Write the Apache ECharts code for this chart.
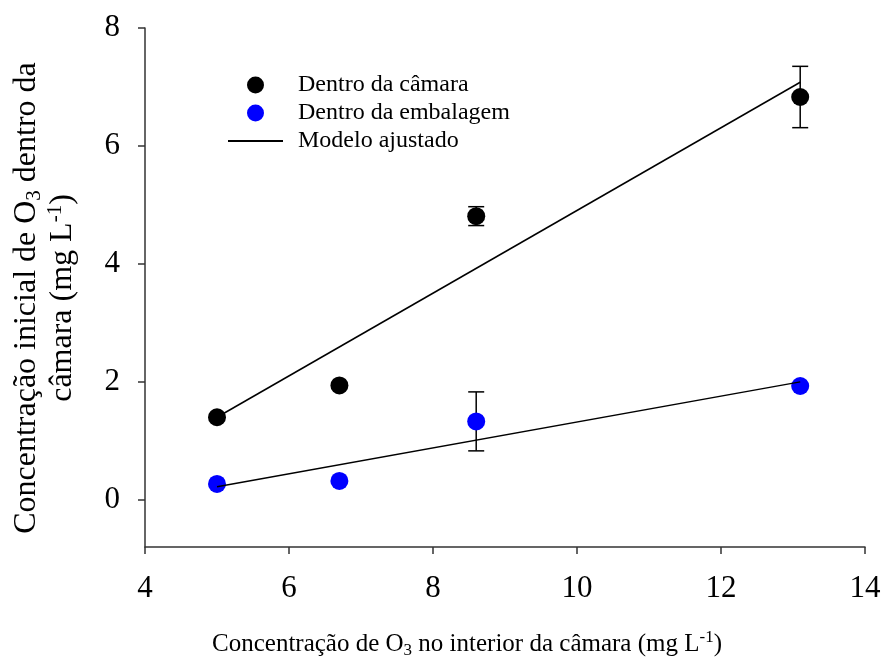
<!DOCTYPE html>
<html>
<head>
<meta charset="utf-8">
<script src="https://cdn.jsdelivr.net/npm/echarts@6/dist/echarts.min.js"></script>
<style>
  html, body { margin: 0; padding: 0; background: #fff; }
  #chart { width: 884px; height: 661px; }
</style>
</head>
<body>
<div id="chart"></div>
<script>
// O3 concentration in the chamber (x) and measured concentrations
const xVals = [5.0, 6.7, 8.6, 13.1];
const camara = [1.40, 1.94, 4.81, 6.83];
const camaraErr = [0, 0, 0.16, 0.52];
const embalagem = [0.27, 0.32, 1.33, 1.93];
const embalagemErr = [0, 0, 0.50, 0];

// Fitted linear models, evaluated at the ends of the measured range
const fitX = [5.0, 13.1];
const camaraFit = [1.40, 7.08];
const embalagemFit = [0.22, 2.00];

// Axis ticks
const xTicks = [4, 6, 8, 10, 12, 14];
const yTicks = [0, 2, 4, 6, 8];

const FONT = "'Liberation Serif', 'Times New Roman', serif";

const pairs = (xs, ys) => xs.map((x, i) => [x, ys[i]]);
const triples = (xs, ys, es) => xs.map((x, i) => [x, ys[i], es[i]]);

function errorBars(params, api) {
  const x = api.value(0), y = api.value(1), e = api.value(2);
  if (!e) return null;
  const top = api.coord([x, y + e]);
  const bot = api.coord([x, y - e]);
  const hw = 8;
  const style = { stroke: '#000', lineWidth: 1.5 };
  return {
    type: 'group',
    children: [
      { type: 'line', shape: { x1: top[0], y1: top[1], x2: bot[0], y2: bot[1] }, style },
      { type: 'line', shape: { x1: top[0] - hw, y1: top[1], x2: top[0] + hw, y2: top[1] }, style },
      { type: 'line', shape: { x1: bot[0] - hw, y1: bot[1], x2: bot[0] + hw, y2: bot[1] }, style }
    ]
  };
}

const chart = echarts.init(document.getElementById('chart'), null, { renderer: 'canvas' });

const axisLineStyle = { color: '#333', width: 1.5 };
const axisTick = { show: true, inside: false, length: 7, lineStyle: { color: '#333', width: 1.5 } };

chart.setOption({
  animation: false,
  backgroundColor: '#fff',
  grid: { left: 145, right: 19, top: 28, bottom: 114, containLabel: false },
  xAxis: {
    type: 'value',
    min: xTicks[0],
    max: xTicks[xTicks.length - 1],
    interval: 2,
    axisLine: { show: true, onZero: false, lineStyle: axisLineStyle },
    axisTick: axisTick,
    splitLine: { show: false },
    axisLabel: { fontFamily: FONT, fontSize: 31, color: '#000', margin: 26 }
  },
  yAxis: {
    type: 'value',
    min: -0.8,
    max: 8,
    axisLine: { show: true, onZero: false, lineStyle: axisLineStyle },
    axisTick: { ...axisTick, customValues: yTicks },
    splitLine: { show: false },
    axisLabel: { fontFamily: FONT, fontSize: 31, color: '#000', margin: 25, customValues: yTicks }
  },
  legend: {
    orient: 'vertical',
    left: 227,
    top: 73,
    padding: 0,
    itemWidth: 55,
    itemHeight: 17,
    itemGap: 4,
    data: [
      'Dentro da câmara',
      'Dentro da embalagem',
      { name: 'Modelo ajustado', itemStyle: { opacity: 0 } }
    ],
    textStyle: { fontFamily: FONT, fontSize: 24, color: '#000', lineHeight: 24, padding: [0, 0, 0, 10] }
  },
  graphic: [
    {
      type: 'text',
      x: 45, y: 298,
      rotation: Math.PI / 2,
      style: {
        text: '{a|Concentração inicial de O}{s|3}{a| dentro da}\n{a|câmara (mg L}{p|-1}{a|)}',
        align: 'center',
        verticalAlign: 'middle',
        fill: '#000',
        rich: {
          a: { fontFamily: FONT, fontSize: 32, lineHeight: 36, fill: '#000' },
          s: { fontFamily: FONT, fontSize: 21, lineHeight: 21, verticalAlign: 'bottom', fill: '#000' },
          p: { fontFamily: FONT, fontSize: 21, lineHeight: 21, verticalAlign: 'top', fill: '#000' }
        }
      }
    },
    {
      type: 'text',
      x: 467, y: 644,
      style: {
        text: '{a|Concentração de O}{s|3}{a| no interior da câmara (mg L}{p|-1}{a|)}',
        align: 'center',
        verticalAlign: 'middle',
        fill: '#000',
        rich: {
          a: { fontFamily: FONT, fontSize: 25, lineHeight: 30, fill: '#000' },
          s: { fontFamily: FONT, fontSize: 17, lineHeight: 17, verticalAlign: 'bottom', fill: '#000' },
          p: { fontFamily: FONT, fontSize: 17, lineHeight: 17, verticalAlign: 'top', fill: '#000' }
        }
      }
    }
  ],
  series: [
    {
      name: 'erro-camara',
      type: 'custom',
      renderItem: errorBars,
      data: triples(xVals, camara, camaraErr),
      z: 1,
      silent: true
    },
    {
      name: 'erro-embalagem',
      type: 'custom',
      renderItem: errorBars,
      data: triples(xVals, embalagem, embalagemErr),
      z: 1,
      silent: true
    },
    {
      name: 'Dentro da câmara',
      type: 'scatter',
      symbol: 'circle',
      symbolSize: 18,
      itemStyle: { color: '#000', opacity: 1 },
      data: pairs(xVals, camara),
      z: 2
    },
    {
      name: 'Dentro da embalagem',
      type: 'scatter',
      symbol: 'circle',
      symbolSize: 18,
      itemStyle: { color: '#0000ff', opacity: 1 },
      data: pairs(xVals, embalagem),
      z: 2
    },
    {
      name: 'Modelo ajustado',
      type: 'line',
      symbol: 'none',
      itemStyle: { color: '#000' },
      lineStyle: { color: '#000', width: 1.5 },
      data: pairs(fitX, camaraFit),
      z: 3
    },
    {
      name: 'Modelo ajustado',
      type: 'line',
      symbol: 'none',
      itemStyle: { color: '#000' },
      lineStyle: { color: '#000', width: 1.5 },
      data: pairs(fitX, embalagemFit),
      z: 3
    }
  ]
});
</script>
</body>
</html>
